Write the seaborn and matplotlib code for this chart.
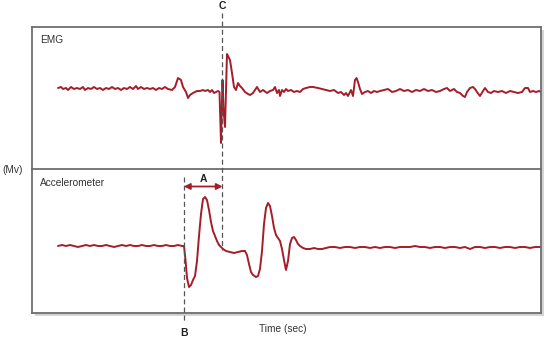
import matplotlib
matplotlib.use("Agg")
import matplotlib.pyplot as plt
import matplotlib.transforms as mtransforms
from matplotlib.patches import Rectangle, FancyArrowPatch
from matplotlib.lines import Line2D
import seaborn as sns
import pandas as pd

# ---- data (time in arbitrary units, amplitude in arbitrary units) ----
emg_time = [58, 61, 63, 66, 68, 71, 74, 77, 80, 83, 85, 88, 91, 94, 97, 100, 103, 106, 109, 112,
            115, 118, 121, 124, 127, 130, 133, 136, 138, 141, 144, 147, 150, 153, 156, 159, 162, 165,
            168, 172, 175, 178, 181, 183, 186, 188, 190, 193, 195, 197, 200, 203, 205, 208, 210, 212,
            214, 216, 218, 219.5, 221, 222.5, 223.5, 225, 227, 230, 232, 234, 236, 238, 240, 242, 245,
            248, 250, 253, 257, 260, 263, 267, 270, 273, 275, 277, 279, 280, 282, 284, 286, 288, 291,
            294, 297, 300, 303, 306, 310, 313, 318, 322, 326, 330, 334, 338, 341, 344, 346, 348, 351,
            353, 355, 356.5, 358, 360, 362, 365, 368, 371, 374, 377, 380, 384, 388, 392, 396, 400, 404,
            408, 412, 416, 420, 424, 428, 432, 436, 440, 444, 447, 450, 454, 457, 460, 463, 465, 467,
            470, 473, 475, 477, 480, 483, 485, 488, 491, 494, 498, 502, 506, 510, 514, 518, 522, 525,
            528, 530, 533, 536, 539, 541]
emg_amp = [1, 2, 0, 1, -1, 2, 0, 1, 0, 2, -1, 1, 0, 2, 0, 1, -1, 1, 0, 2,
           0, 1, -1, 1, 0, 2, 0, 3, 0, 2, 0, 1, 0, 1, -1, 1, 0, 2,
           0, -1, 2, 11, 9, 2, -3, -9, -6, -4, -3, -2, -2, -1, -2, -1, -3, -1,
           -4, -3, -2, -3, -54, 9, -20, -38, 35, 29, 16, 2, -1, 6, 3, 1, -3,
           -5, -6, -4, 2, -3, -1, -4, -2, -1, 2, -4, -1, -7, -1, -3, 0, -2, -1,
           -3, -2, -3, 0, 1, 2, 2, 1, 0, -1, -2, -1, -4, -3, -6, -4, -7, -1,
           -7, 9, 11, 7, 0, -5, -3, -2, -4, -2, -3, -2, -1, 0, -3, -2, 0, -2,
           -1, -3, -1, -2, 0, -2, -1, -3, -2, 0, 1, -2, 0, -3, -4, -7, -8, -3,
           1, 2, 0, -3, -7, -2, 1, -3, -4, -2, -3, -2, -4, -2, -3, -4, -3, 1,
           1, -3, -2, -3, -2, -3]

acc_time = [58, 62, 66, 70, 74, 78, 82, 86, 90, 94, 98, 102, 106, 110, 114, 118, 122, 126, 130,
            134, 138, 142, 146, 150, 154, 158, 162, 166, 170, 174, 178, 182, 184, 185.5, 187, 189,
            191, 193, 195, 197, 199, 201, 203, 205, 207, 209, 211, 213, 215, 217, 219, 221, 223, 226,
            230, 234, 238, 242, 245, 247, 249, 251, 253, 256, 258, 260, 262, 264, 266, 268, 270, 272,
            274, 276, 278, 280, 282, 284, 286, 288, 290, 292, 294, 296, 298, 300, 303, 306, 310, 314,
            318, 322, 326, 330, 335, 340, 345, 350, 355, 360, 365, 370, 375, 380, 385, 390, 395, 400,
            405, 410, 415, 420, 425, 430, 435, 440, 445, 450, 455, 460, 465, 470, 475, 480, 485, 490,
            495, 500, 505, 510, 515, 520, 525, 530, 535, 541]
acc_amp = [0, 1, 0, 1, 0, -1, 0, 1, 0, 1, 0, 0, 1, 0, -1, 0, 1, 0, 1,
           0, 0, 1, 0, 0, 1, 0, 0, 1, 0, 0, 1, 0, 0, -14, -32, -41,
           -39, -34, -30, -15, 10, 32, 47, 49, 46, 36, 24, 15, 10, 5, 1, -1, -3, -5,
           -6, -7, -6, -5, -5, -9, -18, -26, -29, -31, -30, -23, -5, 22, 38, 43, 40, 30,
           18, 11, 8, 5, -3, -14, -24, -15, 2, 8, 9, 6, 2, 0, -2, -3, -3, -2,
           -3, -3, -2, -1, -1, -2, -1, -1, -2, -1, -1, -2, -1, -2, -1, -1, -2, -1,
           -1, -1, 0, -1, -1, -2, -1, -1, -2, -1, -1, -2, -1, -3, -1, -1, -2, -1,
           -1, -2, -1, -1, -2, -1, -1, -2, -1, -1]

panel_labels = ["EMG", "Accelerometer"]
marker_B = 184
marker_C = 222.5

# ---- figure ----
sns.set_style("white")
plt.rcParams["font.family"] = ["Liberation Sans", "DejaVu Sans"]

W, H = 546, 340
fig = plt.figure(figsize=(W / 100, H / 100), dpi=100)

def fx(px):
    return px / W

def fy(py):
    return 1 - py / H

left_px, right_px = 32, 541
top_px, mid_px, bot_px = 27, 169, 313

# drop shadow
fig.patches.append(Rectangle((fx(left_px + 3), fy(bot_px + 3)), fx(right_px - left_px), (bot_px - top_px) / H,
                             transform=fig.transFigure, facecolor="#d4d4d4", edgecolor="none", zorder=-5))

ax1 = fig.add_axes([fx(left_px), fy(mid_px), fx(right_px - left_px), (mid_px - top_px) / H])
ax2 = fig.add_axes([fx(left_px), fy(bot_px), fx(right_px - left_px), (bot_px - mid_px) / H])

line_color = "#a51c2a"
df_emg = pd.DataFrame({"time": emg_time, "amp": emg_amp})
df_acc = pd.DataFrame({"time": acc_time, "amp": acc_amp})
sns.lineplot(data=df_emg, x="time", y="amp", ax=ax1, color=line_color, linewidth=1.4)
sns.lineplot(data=df_acc, x="time", y="amp", ax=ax2, color=line_color, linewidth=1.4)

ax1.set_ylim(-80, 62)
ax2.set_ylim(-67, 77)
for ax in (ax1, ax2):
    ax.set_xlim(left_px, right_px)
    ax.set_xticks([])
    ax.set_yticks([])
    ax.set_xlabel("")
    ax.set_ylabel("")
    for s in ax.spines.values():
        s.set_color("#6e6e6e")
        s.set_linewidth(1.3)
ax1.spines["bottom"].set_visible(False)

ax1.text(8 / (right_px - left_px), 1 - 13 / (mid_px - top_px), panel_labels[0], transform=ax1.transAxes,
         fontsize=7.3, color="#333333", ha="left", va="center")
ax2.text(8 / (right_px - left_px), 1 - 13.5 / (bot_px - mid_px), panel_labels[1], transform=ax2.transAxes,
         fontsize=7.3, color="#333333", ha="left", va="center")

# dashed marker lines spanning panels
btr = mtransforms.blended_transform_factory(ax1.transData, fig.transFigure)
fig.add_artist(Line2D([marker_C, marker_C], [fy(13), fy(250)], transform=btr, color="#555555",
                      linewidth=0.9, linestyle=(0, (4, 2.5)), zorder=5))
fig.add_artist(Line2D([marker_B, marker_B], [fy(177), fy(322)], transform=btr, color="#555555",
                      linewidth=0.9, linestyle=(0, (4, 2.5)), zorder=5))

fig.text(marker_C, fy(6), "C", transform=btr, fontsize=7.5, fontweight="bold", color="#222222",
         ha="center", va="center")
fig.text(marker_B, fy(333), "B", transform=btr, fontsize=7.5, fontweight="bold", color="#222222",
         ha="center", va="center")
fig.text((marker_B + marker_C) / 2, fy(179), "A", transform=btr, fontsize=7.5, fontweight="bold",
         color="#222222", ha="center", va="center")

arrow = FancyArrowPatch((marker_B, fy(186.5)), (marker_C, fy(186.5)), transform=btr,
                        arrowstyle="<|-|>,head_length=3.5,head_width=1.8", color=line_color,
                        linewidth=1.3, shrinkA=0, shrinkB=0, zorder=6)
fig.add_artist(arrow)

fig.text(fx(2), fy(170), "(Mv)", fontsize=7.3, color="#333333", ha="left", va="center")
fig.text(fx(283), fy(329), "Time (sec)", fontsize=7.3, color="#333333", ha="center", va="center")

fig.savefig("out.png", dpi=100)
